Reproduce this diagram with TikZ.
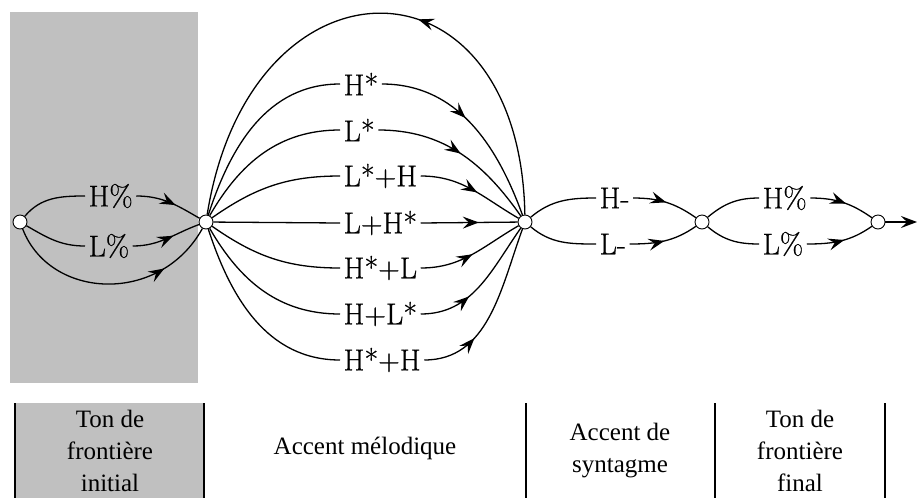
\documentclass[tikz,border=0pt]{standalone}
\usepackage{fontspec}
\newfontfamily\cellfont{Liberation Serif}
\newfontfamily\tonefont{Latin Modern Roman}[FakeBold=0.6]
\usepackage{tikz}
\usetikzlibrary{arrows.meta,decorations.markings,positioning}
\definecolor{zone}{RGB}{192,192,192}

\begin{document}
\begin{tikzpicture}[x=1pt,y=-1pt,line width=1.3pt,
    state/.style={draw,circle,fill=white,inner sep=0pt,minimum size=14pt,line width=0.9pt},
    tone/.style={font=\tonefont\fontsize{30}{30}\selectfont,inner sep=3pt,anchor=west},
    cell/.style={font=\cellfont\fontsize{25}{32}\selectfont,align=center},
    midarrow/.style={postaction={decorate},decoration={markings,
      mark=at position #1 with {\arrow{Stealth[length=16pt,width=12pt,inset=6pt]}}}}]%
    \useasboundingbox (0,0) rectangle (917,498);
    \fill[zone] (10,12) rectangle (198,383); %%
    %% states
    \begin{scope}[every node/.style={state}]%
    \node (s1) at (20,222)  {}; %%
    \node (s2) at (206,222) {}; %%
    \node (s3) at (525,222) {}; %%
    \node (s4) at (702,222) {}; %%
    \node (s5) at (878,222) {}; %%
    \end{scope}
    \coordinate (fin) at (917,222);
    %% initial boundary tone
    \node[tone] (bi1) at (85,196) {H\%}; %%
    \node[tone] (bi2) at (85,246) {L\%}; %%
    \draw (s1) to[out=50,in=180] (bi1.west);
    \draw (s1) to[out=-30,in=180] (bi2.west);
    \draw[midarrow=0.6] (bi1.east) to[out=0,in=150] (s2);
    \draw[midarrow=0.6] (bi2.east) to[out=0,in=200] (s2);
    \draw[midarrow=0.75] (s1) .. controls (50,300) and (160,305) .. (s2);
    %% pitch accents
    \node[tone] (ac1) at (340,84)  {H*}; %%
    \node[tone] (ac2) at (340,130) {L*}; %%
    \node[tone] (ac3) at (340,176) {L*+H}; %%
    \node[tone] (ac4) at (340,223) {L+H*}; %%
    \node[tone] (ac5) at (340,268) {H*+L}; %%
    \node[tone] (ac6) at (340,314) {H+L*}; %%
    \node[tone] (ac7) at (340,360) {H*+H}; %%
    \draw (s2) to[out=72,in=180] (ac1.west);
    \draw (s2) to[out=60,in=180] (ac2.west);
    \draw (s2) to[out=35,in=180] (ac3.west);
    \draw (s2) -- (ac4.west);
    \draw (s2) to[out=-35,in=180] (ac5.west);
    \draw (s2) to[out=-60,in=180] (ac6.west);
    \draw (s2) to[out=-72,in=180] (ac7.west);
    \draw[midarrow=0.45] (ac1.east) to[out=0,in=110] (s3);
    \draw[midarrow=0.5] (ac2.east) to[out=0,in=125] (s3);
    \draw[midarrow=0.55] (ac3.east) to[out=0,in=150] (s3);
    \draw[midarrow=0.6] (ac4.east) -- (s3);
    \draw[midarrow=0.5] (ac5.east) to[out=0,in=210] (s3);
    \draw[midarrow=0.38] (ac6.east) to[out=0,in=235] (s3);
    \draw[midarrow=0.32] (ac7.east) to[out=0,in=250] (s3);
    \draw[midarrow=0.42] (s3) .. controls (520,-54) and (250,-54) .. (s2);
    %% phrase accent
    \node[tone] (ph1) at (596,198) {H-}; %%
    \node[tone] (ph2) at (596,244) {L-}; %%
    \draw (s3) to[out=40,in=180] (ph1.west);
    \draw (s3) to[out=-40,in=180] (ph2.west);
    \draw[midarrow=0.5] (ph1.east) to[out=0,in=145] (s4);
    \draw[midarrow=0.5] (ph2.east) to[out=0,in=215] (s4);
    %% final boundary tone
    \node[tone] (bf1) at (759,198) {H\%}; %%
    \node[tone] (bf2) at (759,244) {L\%}; %%
    \draw (s4) to[out=40,in=180] (bf1.west);
    \draw (s4) to[out=-40,in=180] (bf2.west);
    \draw[midarrow=0.55] (bf1.east) to[out=0,in=145] (s5);
    \draw[midarrow=0.55] (bf2.east) to[out=0,in=215] (s5);
    \draw[-{Stealth[length=16pt,width=12pt,inset=6pt]}] (s5) -- (fin);
    %% legend
    \fill[zone] (15,403) rectangle (204,498);
    \foreach \x in {15,204,526,715,885} \draw[line width=2.4pt] (\x,403) -- (\x,498);
    \node[cell] (c1) at (110,451) {Ton de\\frontière\\initial};
    \node[cell] (c2) at (365,448) {Accent mélodique};
    \node[cell] (c3) at (620,451) {Accent de\\syntagme};
    \node[cell] (c4) at (800,451) {Ton de\\frontière\\final};
\end{tikzpicture}
\end{document}
